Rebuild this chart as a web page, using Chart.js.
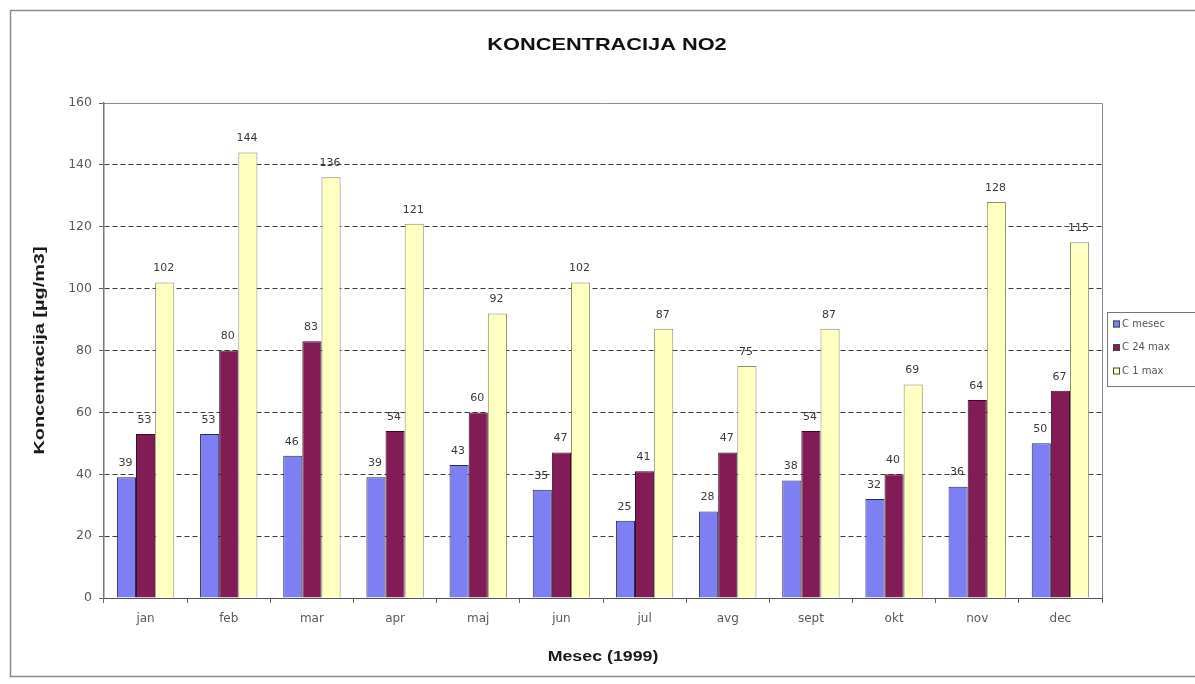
<!DOCTYPE html>
<html>
<head>
<meta charset="utf-8">
<title>Koncentracija NO2</title>
<script src="https://cdn.jsdelivr.net/npm/chart.js@4"></script>
<style>
  html, body { margin: 0; padding: 0; background: #fff; }
  #wrap { width: 1195px; height: 684px; position: relative; }
</style>
</head>
<body>
<div id="wrap"><canvas id="chart" width="1195" height="684"></canvas></div>
<script>
// Monthly NO2 concentrations, 1999
const months = ['jan', 'feb', 'mar', 'apr', 'maj', 'jun', 'jul', 'avg', 'sept', 'okt', 'nov', 'dec'];
const cMesec = [39, 53, 46, 39, 43, 35, 25, 28, 38, 32, 36, 50];
const c24Max = [53, 80, 83, 54, 60, 47, 41, 47, 54, 40, 64, 67];
const c1Max = [102, 144, 136, 121, 92, 102, 87, 75, 87, 69, 128, 115];
const seriesNames = ['C mesec', 'C 24 max', 'C 1 max'];
const yMin = 0, yMax = 160, yStep = 20;

const chartTitle = 'KONCENTRACIJA NO2';
const xTitle = 'Mesec (1999)';
const yTitle = 'Koncentracija [µg/m3]';

const fills = ['#7f7ff4', '#821c56', '#ffffc2'];
const edges = ['#2a2a55', '#3a0a25', '#8a8a70'];
const SANS = '"Liberation Sans", Arial, sans-serif';
const WIDE = '"DejaVu Sans", sans-serif';

// text stretched along its baseline, like the old spreadsheet rendering
function wideText(ctx, text, x, y, font, sx, angle) {
  ctx.save();
  ctx.translate(x, y);
  if (angle) ctx.rotate(angle);
  ctx.scale(sx, 1);
  ctx.font = font;
  ctx.textAlign = 'center';
  ctx.textBaseline = 'middle';
  ctx.fillText(text, 0, 0);
  ctx.restore();
}

// frame, titles, legend and value labels
const decor = {
  id: 'decor',
  beforeDraw(chart) {
    const ctx = chart.ctx;
    const a = chart.chartArea;
    ctx.save();
    ctx.strokeStyle = '#8c8c8c';
    ctx.lineWidth = 1.5;
    ctx.strokeRect(10.5, 10.5, 1200, 666);
    // plot frame (top and right)
    ctx.strokeStyle = '#8a8a8a';
    ctx.lineWidth = 1;
    ctx.beginPath();
    ctx.moveTo(a.left, a.top + 0.5);
    ctx.lineTo(a.right + 0.5, a.top + 0.5);
    ctx.lineTo(a.right + 0.5, a.bottom);
    ctx.stroke();
    ctx.restore();
  },
  afterDatasetsDraw(chart) {
    const ctx = chart.ctx;
    ctx.save();
    ctx.fillStyle = '#3a3a3a';
    ctx.font = '11px ' + WIDE;
    ctx.textAlign = 'center';
    ctx.textBaseline = 'middle';
    chart.data.datasets.forEach((ds, i) => {
      chart.getDatasetMeta(i).data.forEach((bar, j) => {
        ctx.fillText(String(ds.data[j]), bar.x - 1, bar.y - 14);
      });
    });
    ctx.restore();
  },
  afterDraw(chart) {
    const ctx = chart.ctx;
    const a = chart.chartArea;
    ctx.save();
    ctx.fillStyle = '#111';
    wideText(ctx, chartTitle, 607, 45, 'bold 17px ' + SANS, 1.28, 0);
    ctx.fillStyle = '#1a1a1a';
    wideText(ctx, xTitle, 603, 657, 'bold 14px ' + SANS, 1.27, 0);
    wideText(ctx, yTitle, 40, (a.top + a.bottom) / 2, 'bold 14px ' + SANS, 1.42, -Math.PI / 2);
    ctx.restore();

    // legend box
    ctx.save();
    ctx.strokeStyle = '#777';
    ctx.lineWidth = 1;
    ctx.fillStyle = '#fff';
    ctx.fillRect(1107.5, 312.5, 100, 74);
    ctx.strokeRect(1107.5, 312.5, 100, 74);
    ctx.font = '10px ' + WIDE;
    ctx.textBaseline = 'middle';
    ctx.textAlign = 'left';
    seriesNames.forEach((name, i) => {
      const y = 324 + i * 23.5;
      ctx.fillStyle = fills[i];
      ctx.fillRect(1113, y - 3.5, 7, 7);
      ctx.strokeStyle = '#444';
      ctx.strokeRect(1113.5, y - 3, 6, 6);
      ctx.fillStyle = '#555';
      ctx.fillText(name, 1122, y);
    });
    ctx.restore();
  }
};

new Chart(document.getElementById('chart'), {
  type: 'bar',
  data: {
    labels: months,
    datasets: [cMesec, c24Max, c1Max].map((vals, i) => ({
      label: seriesNames[i],
      data: vals,
      backgroundColor: fills[i],
      borderColor: edges[i],
      borderWidth: 1,
      categoryPercentage: 0.69,
      barPercentage: 1.0
    }))
  },
  options: {
    responsive: false,
    animation: false,
    layout: { padding: { top: 103, right: 93, left: 0, bottom: 0 } },
    plugins: {
      legend: { display: false },
      title: { display: false },
      tooltip: { enabled: false }
    },
    scales: {
      x: {
        afterFit(scale) { scale.height = 86; },
        grid: {
          offset: true,
          drawOnChartArea: false,
          tickLength: 5,
          tickColor: '#666'
        },
        border: { color: '#555', width: 1 },
        ticks: {
          color: '#5a5a5a',
          padding: 9,
          font: { family: WIDE, size: 12 }
        }
      },
      y: {
        min: yMin,
        max: yMax,
        afterFit(scale) { scale.width = 104; },
        grid: {
          color: (c) => (c.tick && (c.tick.value === yMin || c.tick.value === yMax)) ? 'rgba(0,0,0,0)' : '#3c3c3c',
          lineWidth: 1,
          tickLength: 5,
          tickColor: '#666',
          tickBorderDash: [],
          drawTicks: true
        },
        border: { color: '#777', width: 1.5, dash: [5, 3] },
        ticks: {
          stepSize: yStep,
          color: '#5a5a5a',
          padding: 7,
          font: { family: WIDE, size: 12.5 }
        }
      }
    }
  },
  plugins: [decor]
});
</script>
</body>
</html>
